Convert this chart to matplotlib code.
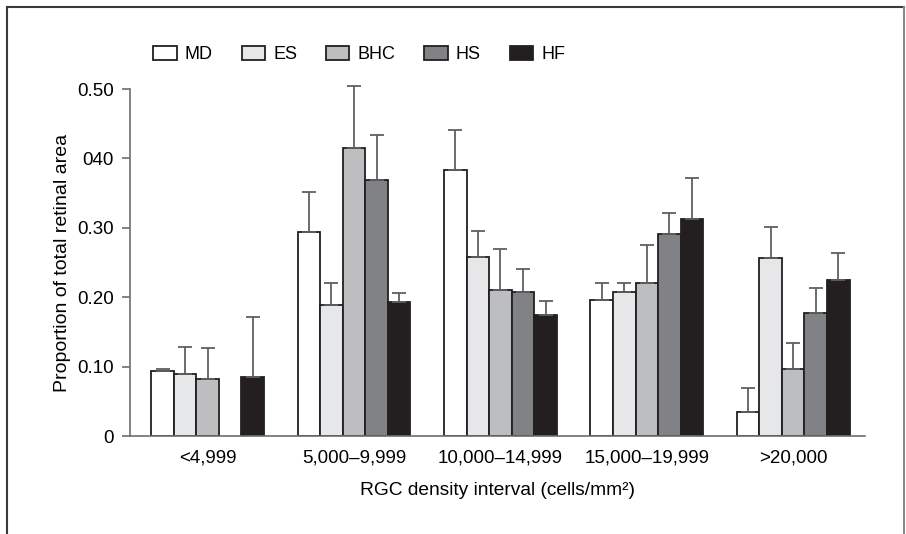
import matplotlib
matplotlib.use('Agg')
import matplotlib.pyplot as plt
from matplotlib.lines import Line2D
import numpy as np

FONT = ['Liberation Sans', 'DejaVu Sans']
plt.rcParams['font.family'] = FONT

intervals = ['<4,999', '5,000\u20139,999', '10,000\u201314,999', '15,000\u201319,999', '>20,000']
groups = ['MD', 'ES', 'BHC', 'HS', 'HF']
colors = ['#ffffff', '#e6e7e8', '#bcbec0', '#808285', '#231f20']

md = [0.094, 0.294, 0.383, 0.196, 0.034]
es = [0.089, 0.189, 0.258, 0.207, 0.257]
bhc = [0.082, 0.415, 0.210, 0.220, 0.096]
hs = [np.nan, 0.369, 0.207, 0.291, 0.177]
hf = [0.085, 0.193, 0.174, 0.313, 0.225]

md_err = [0.003, 0.058, 0.058, 0.024, 0.035]
es_err = [0.039, 0.031, 0.037, 0.014, 0.044]
bhc_err = [0.045, 0.090, 0.060, 0.055, 0.038]
hs_err = [np.nan, 0.065, 0.034, 0.030, 0.036]
hf_err = [0.087, 0.013, 0.021, 0.059, 0.039]

vals = [md, es, bhc, hs, hf]
errs = [md_err, es_err, bhc_err, hs_err, hf_err]

fig = plt.figure(figsize=(9.06, 5.34), dpi=100)
ax = fig.add_axes([0.1435, 0.1835, 0.8112, 0.6498])

x = np.arange(len(intervals))
w = 0.154
for j, (g, c) in enumerate(zip(groups, colors)):
    pos = x + (j - 2) * w
    ax.bar(pos, vals[j], w, color=c, edgecolor='#231f20', linewidth=1.3,
           label=g, zorder=2)
    eb = ax.errorbar(pos, vals[j], yerr=[np.zeros(len(x)), errs[j]], fmt='none',
                     ecolor='#5f6062', elinewidth=1.3, capsize=4.7, capthick=1.3,
                     zorder=3)
    for art in eb.lines[1] + eb.lines[2]:
        art.set_clip_on(False)

ax.set_xlim(-0.53, 4.49)
ax.set_ylim(0, 0.5)
ax.set_yticks([0, 0.1, 0.2, 0.3, 0.4, 0.5])
ax.set_yticklabels(['0', '0.10', '0.20', '0.30', '040', '0.50'], fontsize=13.5)
ax.set_xticks(x)
ax.set_xticklabels(intervals, fontsize=13.5)
ax.tick_params(axis='x', length=0, pad=10)
ax.tick_params(axis='y', length=5.8, width=1.2, color='#6d6e70', pad=6)
for s in ['top', 'right']:
    ax.spines[s].set_visible(False)
for s in ['left', 'bottom']:
    ax.spines[s].set_color('#6d6e70')
    ax.spines[s].set_linewidth(1.2)

ax.set_ylabel('Proportion of total retinal area', fontsize=14)
ax.yaxis.set_label_coords(-0.0925, 0.5)
ax.set_xlabel('RGC density interval (cells/mm\u00b2)', fontsize=13.8)
ax.xaxis.set_label_coords(0.5, -0.156)
ax.xaxis.label.set_va('center')
ax.yaxis.label.set_va('center')

fig.legend(loc='center left', bbox_to_anchor=(144 / 906, 0.898), ncol=5,
           frameon=False, borderpad=0, handlelength=1.3, handleheight=0.85,
           handletextpad=0.45, columnspacing=1.6, fontsize=13)

# outer frame (no bottom edge)
bc = '#3a3a3a'
fig.add_artist(Line2D([7 / 906, 7 / 906], [0, 1 - 7 / 534], color=bc, lw=1.5, transform=fig.transFigure))
fig.add_artist(Line2D([7 / 906, 904 / 906], [1 - 7 / 534, 1 - 7 / 534], color=bc, lw=1.5, transform=fig.transFigure))
fig.add_artist(Line2D([904 / 906, 904 / 906], [0, 1 - 7 / 534], color='#8a8a8a', lw=1.5, transform=fig.transFigure))

fig.savefig('out.png', dpi=100, facecolor='white')
